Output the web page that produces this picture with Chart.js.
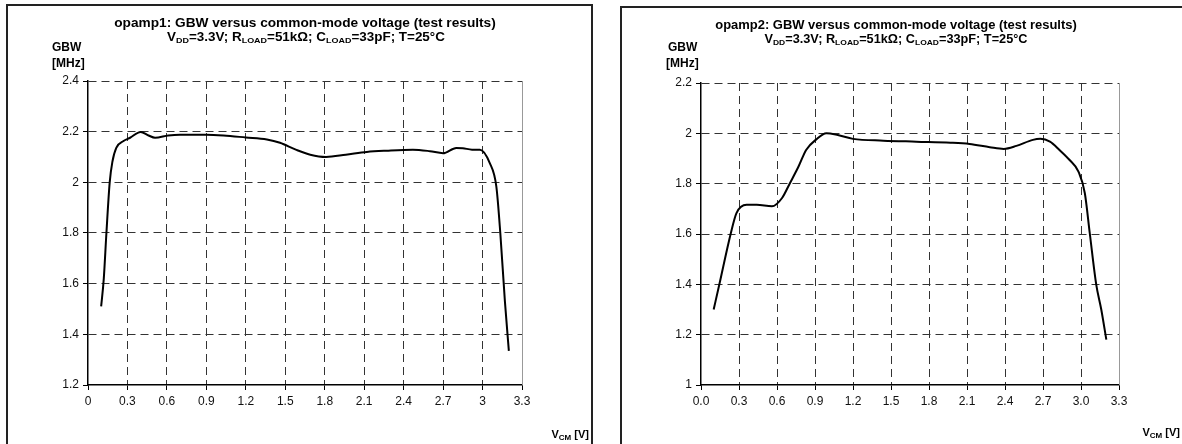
<!DOCTYPE html>
<html lang="en">
<head>
    <meta charset="UTF-8">
    <title>GBW versus common-mode voltage</title>
    <script src="https://cdn.jsdelivr.net/npm/chart.js"></script>
    <style>
        body {
            margin: 0;
            padding: 0;
            background: #fff;
            font-family: Arial, "Liberation Sans", sans-serif;
            width: 1182px;
            height: 444px;
            overflow: hidden;
            position: relative;
        }
        canvas {
            position: absolute;
            top: 0;
        }
        .box {
            position: absolute;
            border: 2px solid #222;
            box-sizing: border-box;
            height: 470px;
        }
        .txt {
            position: absolute;
            font-weight: bold;
            font-size: 12px;
            line-height: 12px;
            color: #000;
            white-space: nowrap;
        }
        .title {
            width: 500px;
            text-align: center;
        }
        .txt sub {
            font-size: 8px;
            line-height: 0;
            vertical-align: -2px;
        }
        .vcm {
            font-size: 11px;
            text-align: right;
            width: 80px;
        }
    </style>
</head>
<body>
    <canvas id="chart1" width="600" height="444" style="left:0"></canvas>
    <canvas id="chart2" width="576" height="444" style="left:606px"></canvas>

    <div class="box" style="left:6px; top:4px; width:587px;"></div>
    <div class="box" style="left:620px; top:6px; width:600px;"></div>

    <div class="txt title" style="left:55px; top:17px; transform:scaleX(1.14);">opamp1: GBW versus common-mode voltage (test results)</div>
    <div class="txt title" style="left:56px; top:31px; transform:scaleX(1.12);">V<sub>DD</sub>=3.3V; R<sub>LOAD</sub>=51kΩ; C<sub>LOAD</sub>=33pF; T=25°C</div>
    <div class="txt" style="left:52px; top:41px;">GBW</div>
    <div class="txt" style="left:52px; top:57px;">[MHz]</div>
    <div class="txt vcm" style="left:509px; top:428px;">V<sub>CM</sub> [V]</div>

    <div class="txt title" style="left:646px; top:19px; transform:scaleX(1.08);">opamp2: GBW versus common-mode voltage (test results)</div>
    <div class="txt title" style="left:646px; top:33px; transform:scaleX(1.06);">V<sub>DD</sub>=3.3V; R<sub>LOAD</sub>=51kΩ; C<sub>LOAD</sub>=33pF; T=25°C</div>
    <div class="txt" style="left:668px; top:41px;">GBW</div>
    <div class="txt" style="left:666px; top:57px;">[MHz]</div>
    <div class="txt vcm" style="left:1100px; top:426px;">V<sub>CM</sub> [V]</div>

    <script>
        // opamp1 measured curve
        const opamp1Vcm = [0.10, 0.12, 0.14, 0.165, 0.185, 0.215, 0.27, 0.32, 0.40, 0.46, 0.51, 0.61, 0.70, 0.90, 1.03, 1.20, 1.36, 1.46, 1.58, 1.69, 1.81, 1.96, 2.12, 2.27, 2.47, 2.60, 2.70, 2.80, 2.85, 2.92, 2.98, 3.055, 3.105, 3.135, 3.17, 3.20];
        const opamp1Gbw = [1.51, 1.62, 1.80, 2.00, 2.08, 2.136, 2.163, 2.176, 2.199, 2.185, 2.176, 2.185, 2.188, 2.188, 2.185, 2.177, 2.169, 2.156, 2.129, 2.109, 2.10, 2.109, 2.12, 2.125, 2.129, 2.123, 2.115, 2.136, 2.135, 2.129, 2.129, 2.076, 1.983, 1.80, 1.53, 1.335];

        // opamp2 measured curve
        const opamp2Vcm = [0.10, 0.145, 0.234, 0.28, 0.36, 0.44, 0.56, 0.64, 0.70, 0.77, 0.83, 0.91, 0.99, 1.08, 1.20, 1.44, 1.70, 1.97, 2.12, 2.28, 2.39, 2.49, 2.62, 2.68, 2.755, 2.83, 2.91, 2.98, 3.03, 3.07, 3.12, 3.16, 3.20];
        const opamp2Gbw = [1.30, 1.40, 1.60, 1.683, 1.716, 1.716, 1.71, 1.743, 1.80, 1.868, 1.934, 1.976, 2.0, 1.993, 1.978, 1.971, 1.967, 1.963, 1.958, 1.945, 1.938, 1.95, 1.974, 1.978, 1.967, 1.934, 1.894, 1.848, 1.763, 1.60, 1.40, 1.30, 1.18];

        // axes
        const xTicks = [0, 0.3, 0.6, 0.9, 1.2, 1.5, 1.8, 2.1, 2.4, 2.7, 3.0, 3.3];
        const xLabels1 = ['0', '0.3', '0.6', '0.9', '1.2', '1.5', '1.8', '2.1', '2.4', '2.7', '3', '3.3'];
        const xLabels2 = ['0.0', '0.3', '0.6', '0.9', '1.2', '1.5', '1.8', '2.1', '2.4', '2.7', '3.0', '3.3'];
        const yTicks1 = [1.2, 1.4, 1.6, 1.8, 2.0, 2.2, 2.4];
        const yLabels1 = ['1.2', '1.4', '1.6', '1.8', '2', '2.2', '2.4'];
        const yTicks2 = [1.0, 1.2, 1.4, 1.6, 1.8, 2.0, 2.2];
        const yLabels2 = ['1', '1.2', '1.4', '1.6', '1.8', '2', '2.2'];

        Chart.defaults.font.family = 'Arial, "Liberation Sans", sans-serif';
        Chart.defaults.font.size = 12;
        Chart.defaults.color = '#111';

        // gray solid frame line on the right edge of the plot
        const rightEdge = {
            id: 'rightEdge',
            afterDraw(chart) {
                const a = chart.chartArea;
                const ctx = chart.ctx;
                ctx.save();
                ctx.strokeStyle = '#999';
                ctx.lineWidth = 1;
                ctx.beginPath();
                ctx.moveTo(Math.round(a.right) + 0.5, a.top);
                ctx.lineTo(Math.round(a.right) + 0.5, a.bottom);
                ctx.stroke();
                ctx.restore();
            }
        };

        function makeChart(id, vcm, gbw, xLabels, yTicks, yLabels, yAxisWidth, pad) {
            const pts = vcm.map((v, i) => ({ x: v, y: gbw[i] }));
            const lastX = xTicks.length - 1;
            return new Chart(document.getElementById(id), {
                type: 'line',
                data: {
                    datasets: [{
                        data: pts,
                        borderColor: '#000',
                        borderWidth: 2,
                        pointRadius: 0,
                        fill: false,
                        cubicInterpolationMode: 'monotone'
                    }]
                },
                options: {
                    responsive: false,
                    animation: false,
                    layout: { padding: pad },
                    plugins: { legend: { display: false }, tooltip: { enabled: false } },
                    scales: {
                        x: {
                            type: 'linear',
                            min: 0,
                            max: 3.3,
                            afterBuildTicks: s => { s.ticks = xTicks.map(v => ({ value: v })); },
                            afterFit: s => { s.height = 30; },
                            ticks: {
                                autoSkip: false,
                                maxRotation: 0,
                                padding: 4,
                                callback: (v, i) => xLabels[i]
                            },
                            grid: {
                                color: ctx => (ctx.index === 0 || ctx.index === lastX) ? 'rgba(0,0,0,0)' : '#333',
                                tickColor: '#000',
                                tickLength: 5,
                                lineWidth: 1
                            },
                            border: { color: '#000', width: 1.5, dash: [8, 5] }
                        },
                        y: {
                            min: yTicks[0],
                            max: yTicks[yTicks.length - 1],
                            afterBuildTicks: s => { s.ticks = yTicks.map(v => ({ value: v })); },
                            afterFit: s => { s.width = yAxisWidth; },
                            ticks: {
                                padding: 4,
                                callback: (v, i) => yLabels[i]
                            },
                            grid: {
                                color: ctx => ctx.index === 0 ? 'rgba(0,0,0,0)' : '#333',
                                tickColor: '#000',
                                tickLength: 5,
                                lineWidth: 1
                            },
                            border: { color: '#000', width: 1.5, dash: [8, 5] }
                        }
                    }
                },
                plugins: [rightEdge]
            });
        }

        makeChart('chart1', opamp1Vcm, opamp1Gbw, xLabels1, yTicks1, yLabels1, 88,
            { top: 81, right: 78, bottom: 29, left: 0 });
        makeChart('chart2', opamp2Vcm, opamp2Gbw, xLabels2, yTicks2, yLabels2, 95,
            { top: 83, right: 63, bottom: 29, left: 0 });
    </script>
</body>
</html>
